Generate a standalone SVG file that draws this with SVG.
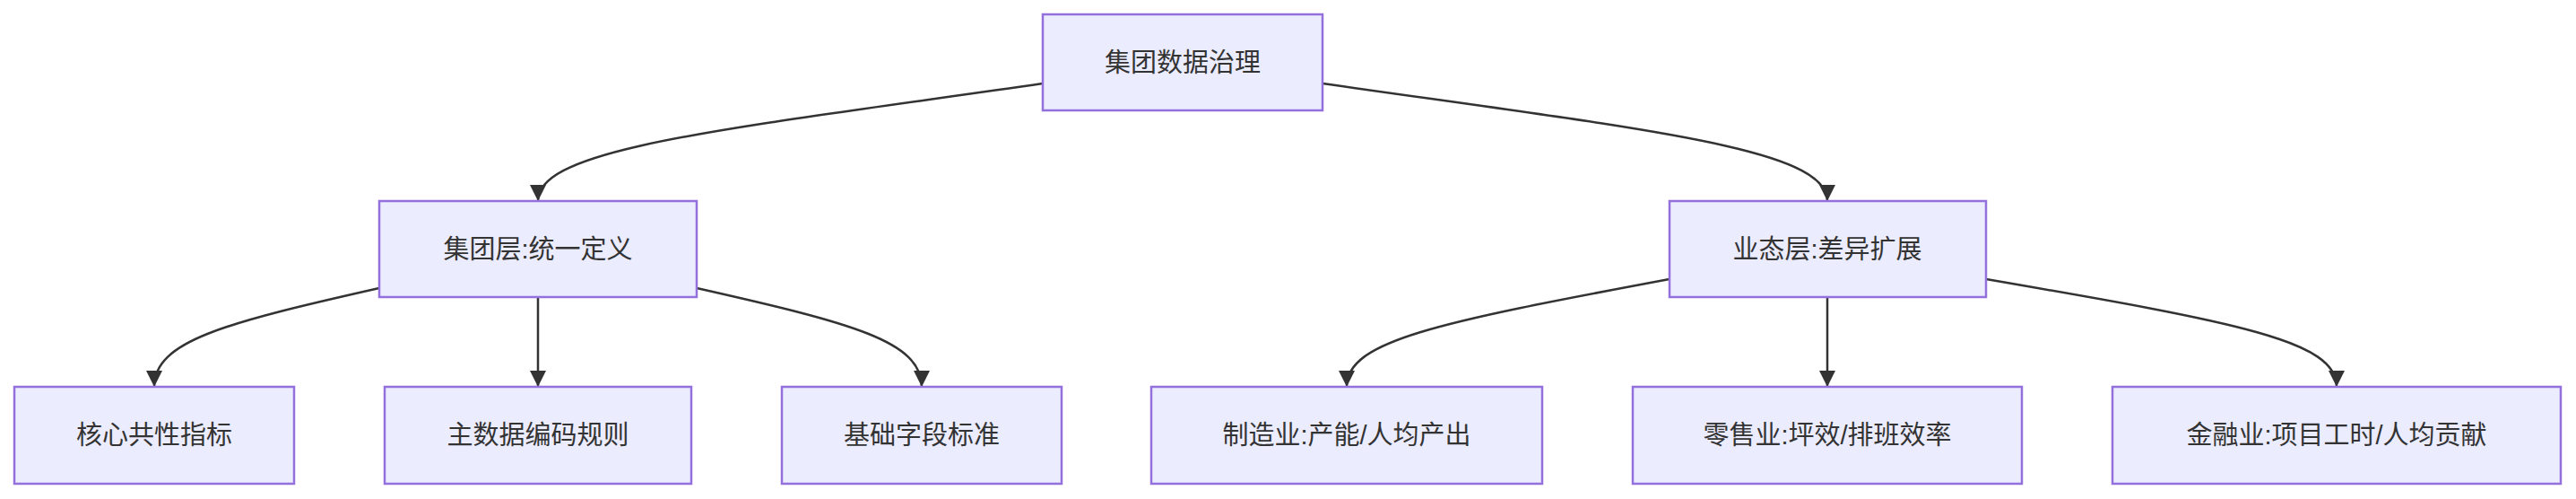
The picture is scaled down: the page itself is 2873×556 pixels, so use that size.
<svg xmlns="http://www.w3.org/2000/svg" width="2873" height="556" viewBox="0 0 2873 556">
<style>
.n rect{fill:#ECECFF;stroke:#9370DB;stroke-width:2.5}
.n text{font-family:"Liberation Sans","Noto Sans CJK SC",sans-serif;font-size:29px;fill:#333;text-anchor:middle;dominant-baseline:central}
.e path{fill:none;stroke:#333;stroke-width:2.5}
</style>
<defs><marker id="a" viewBox="0 0 10 10" refX="10" refY="5" markerWidth="18" markerHeight="18" markerUnits="userSpaceOnUse" orient="auto"><path d="M0,0L10,5L0,10z" fill="#333"/></marker></defs>
<rect width="2873" height="556" fill="#fff"/>
<g class="e">
<path d="M1163,93 C800,145 600,165 600,224" marker-end="url(#a)"/>
<path d="M1475,93 C1840,145 2038,165 2038,224" marker-end="url(#a)"/>
<path d="M423,321 C250,360 172,380 172,431" marker-end="url(#a)"/>
<path d="M600,330 L600,431" marker-end="url(#a)"/>
<path d="M777,321 C950,360 1028,380 1028,431" marker-end="url(#a)"/>
<path d="M1862,311 C1600,360 1502,380 1502,431" marker-end="url(#a)"/>
<path d="M2038,330 L2038,431" marker-end="url(#a)"/>
<path d="M2215,311 C2500,360 2606,380 2606,431" marker-end="url(#a)"/>
</g>
<g id="root" class="n"><rect x="1163" y="16" width="312" height="107"/><text x="1319" y="69.5">集团数据治理</text></g>
<g id="group" class="n"><rect x="423" y="224" width="354" height="107"/><text x="600" y="277.5">集团层:统一定义</text></g>
<g id="biz" class="n"><rect x="1862" y="224" width="353" height="107"/><text x="2038" y="277.5">业态层:差异扩展</text></g>
<g id="l1" class="n"><rect x="16" y="431" width="312" height="108"/><text x="172" y="485">核心共性指标</text></g>
<g id="l2" class="n"><rect x="429" y="431" width="342" height="108"/><text x="600" y="485">主数据编码规则</text></g>
<g id="l3" class="n"><rect x="872" y="431" width="312" height="108"/><text x="1028" y="485">基础字段标准</text></g>
<g id="l4" class="n"><rect x="1284" y="431" width="436" height="108"/><text x="1502" y="485">制造业:产能/人均产出</text></g>
<g id="l5" class="n"><rect x="1821" y="431" width="434" height="108"/><text x="2038" y="485">零售业:坪效/排班效率</text></g>
<g id="l6" class="n"><rect x="2356" y="431" width="500" height="108"/><text x="2606" y="485">金融业:项目工时/人均贡献</text></g>
</svg>
